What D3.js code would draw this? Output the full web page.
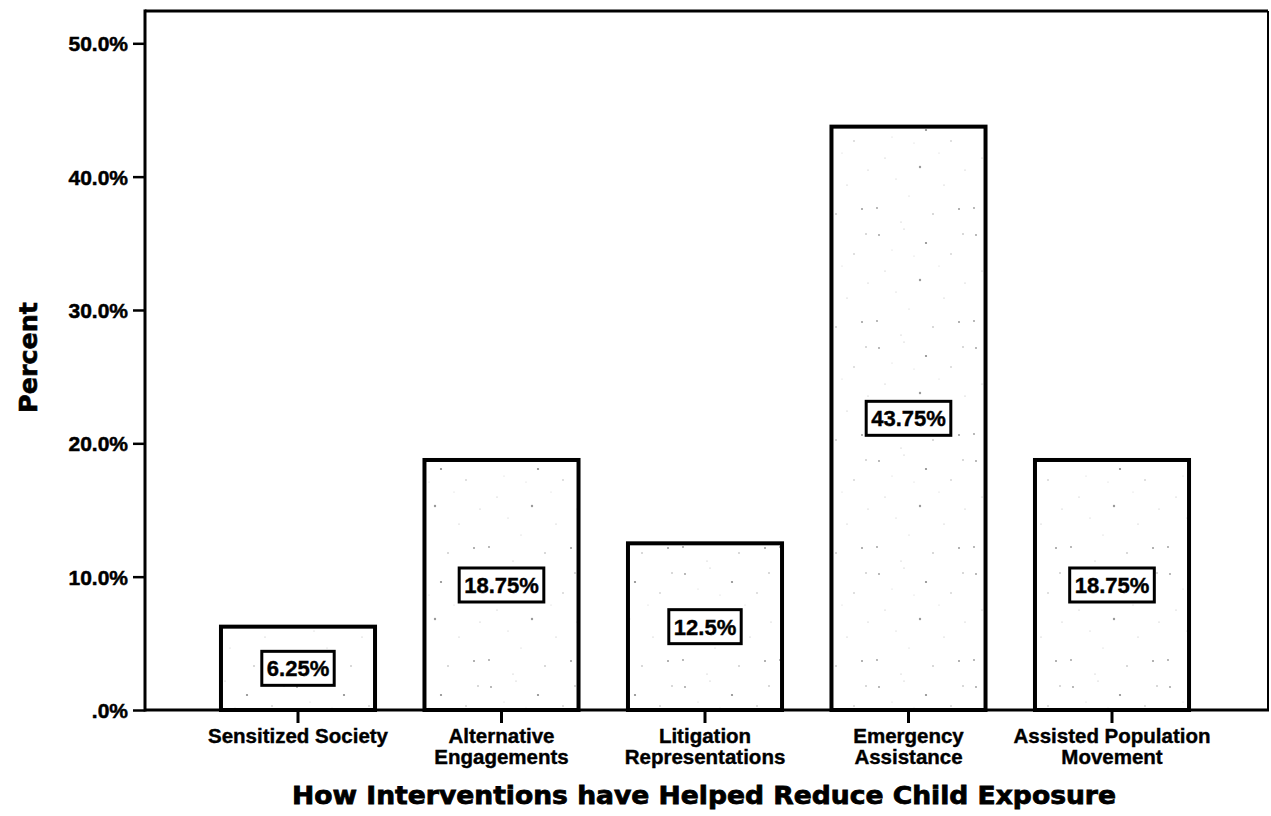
<!DOCTYPE html>
<html>
<head>
<meta charset="utf-8">
<script src="https://cdn.jsdelivr.net/npm/d3@7/dist/d3.min.js"></script>
<style>
  html, body { margin: 0; padding: 0; background: #fff; }
  svg { display: block; }
</style>
</head>
<body>
<svg id="chart" width="1271" height="816"></svg>
<script>
// Survey responses: how interventions have helped reduce child exposure
const categories = [
  "Sensitized Society",
  "Alternative Engagements",
  "Litigation Representations",
  "Emergency Assistance",
  "Assisted Population Movement"
];
const labelLines = [
  ["Sensitized Society"],
  ["Alternative", "Engagements"],
  ["Litigation", "Representations"],
  ["Emergency", "Assistance"],
  ["Assisted Population", "Movement"]
];
const percents = [6.25, 18.75, 12.5, 43.75, 18.75];
const valueLabels = ["6.25%", "18.75%", "12.5%", "43.75%", "18.75%"];
const yTicks = [0, 10, 20, 30, 40, 50];
const yTickLabels = [".0%", "10.0%", "20.0%", "30.0%", "40.0%", "50.0%"];

(function draw() {
  const svg = d3.select("#chart");
  const plotLeft = 145, plotRight = 1268, plotTop = 11, plotBottom = 710;
  const ARIAL = "'Liberation Sans', Arial, sans-serif";
  const HEAVY = "'DejaVu Sans', 'Liberation Sans', sans-serif";

  const y = d3.scaleLinear().domain([0, 50]).range([plotBottom, 43.3]);
  const x = d3.scaleBand()
    .domain(categories)
    .range([196.25, 1213.75])
    .paddingInner(0.243)
    .paddingOuter(0.1215);

  // faint speckle texture used inside the bars
  const defs = svg.append("defs");
  const pat = defs.append("pattern")
    .attr("id", "speckle").attr("patternUnits", "userSpaceOnUse")
    .attr("width", 97).attr("height", 113);
  pat.append("rect").attr("width", 97).attr("height", 113).attr("fill", "#fff");
  const speckles = [
    [6,9,0.9,"#999"],[31,3,0.6,"#bbb"],[53,17,1.1,"#888"],[78,28,0.7,"#aaa"],[12,45,0.6,"#bbb"],
    [47,54,1.2,"#999"],[71,72,0.6,"#bbb"],[90,8,0.8,"#aaa"],[4,95,0.9,"#999"],[36,83,0.6,"#ccc"],
    [60,101,0.8,"#aaa"],[86,96,1.0,"#999"],[23,66,0.5,"#bbb"],[66,40,0.5,"#ccc"],[19,24,0.5,"#ccc"],
    [92,57,0.6,"#bbb"],[41,30,0.5,"#ccc"],[28,109,0.6,"#bbb"]
  ];
  speckles.forEach(([cx, cy, r, c]) =>
    pat.append("circle").attr("cx", cx).attr("cy", cy).attr("r", r).attr("fill", c));

  // bars
  svg.append("g").selectAll("rect.bar")
    .data(percents)
    .join("rect")
    .attr("class", "bar")
    .attr("x", (d, i) => x(categories[i]))
    .attr("y", d => y(d))
    .attr("width", x.bandwidth())
    .attr("height", d => y(0) - y(d))
    .attr("fill", "url(#speckle)")
    .attr("stroke", "#000")
    .attr("stroke-width", 4);

  // frame: top and right borders
  svg.append("line").attr("x1", plotLeft).attr("x2", plotRight).attr("y1", plotTop).attr("y2", plotTop)
    .attr("stroke", "#000").attr("stroke-width", 3);
  svg.append("line").attr("x1", plotRight).attr("x2", plotRight).attr("y1", plotTop).attr("y2", plotBottom)
    .attr("stroke", "#000").attr("stroke-width", 2);

  // y axis
  const yAxis = d3.axisLeft(y)
    .tickValues(yTicks)
    .tickFormat((d, i) => yTickLabels[i])
    .tickSize(12)
    .tickSizeOuter(0)
    .tickPadding(5);
  const gy = svg.append("g").attr("transform", `translate(${plotLeft},0)`).call(yAxis);
  gy.select(".domain").remove();
  gy.selectAll(".tick line").attr("stroke", "#000").attr("stroke-width", 2.5);
  gy.selectAll(".tick text")
    .attr("font-family", ARIAL).attr("font-weight", "bold").attr("font-size", 21)
    .attr("fill", "#000").attr("stroke", "#000").attr("stroke-width", 0.5)
    .attr("dy", "0.36em");
  svg.append("line").attr("x1", plotLeft).attr("x2", plotLeft).attr("y1", plotTop - 1.5).attr("y2", plotBottom + 1.5)
    .attr("stroke", "#000").attr("stroke-width", 3);

  // x axis
  const xAxis = d3.axisBottom(x).tickSize(13).tickSizeOuter(0).tickFormat("");
  const gx = svg.append("g").attr("transform", `translate(0,${plotBottom})`).call(xAxis);
  gx.select(".domain").remove();
  gx.selectAll(".tick line").attr("stroke", "#000").attr("stroke-width", 3);
  svg.append("line").attr("x1", plotLeft).attr("x2", plotRight + 1).attr("y1", plotBottom).attr("y2", plotBottom)
    .attr("stroke", "#000").attr("stroke-width", 3);

  // category labels
  gx.selectAll(".tick").each(function(d, i) {
    const t = d3.select(this).append("text")
      .attr("text-anchor", "middle")
      .attr("font-family", ARIAL).attr("font-weight", "bold").attr("font-size", 20.5)
      .attr("fill", "#000").attr("stroke", "#000").attr("stroke-width", 0.4);
    labelLines[i].forEach((line, j) => {
      t.append("tspan").attr("x", 0).attr("y", 33 + j * 21).text(line);
    });
  });

  // value labels in boxes at the middle of each bar
  const lab = svg.append("g").selectAll("g.vl")
    .data(percents)
    .join("g")
    .attr("class", "vl")
    .attr("transform", (d, i) => `translate(${x(categories[i]) + x.bandwidth() / 2},${y(d / 2)})`);
  lab.each(function(d, i) {
    const g = d3.select(this);
    const txt = g.append("text")
      .attr("text-anchor", "middle").attr("dy", "0.36em")
      .attr("font-family", ARIAL).attr("font-weight", "bold").attr("font-size", 22)
      .attr("fill", "#000").attr("stroke", "#000").attr("stroke-width", 0.4)
      .text(valueLabels[i]);
    const w = txt.node().getComputedTextLength() + 10;
    g.insert("rect", "text")
      .attr("x", -w / 2).attr("y", -17)
      .attr("width", w).attr("height", 34)
      .attr("fill", "#fff").attr("stroke", "#000").attr("stroke-width", 3);
  });

  // axis titles
  svg.append("text")
    .attr("transform", `translate(37,${(302 + 413) / 2}) rotate(-90)`)
    .attr("text-anchor", "middle")
    .attr("font-family", HEAVY).attr("font-weight", "bold").attr("font-size", 25)
    .attr("textLength", 111).attr("lengthAdjust", "spacingAndGlyphs")
    .attr("fill", "#000").attr("stroke", "#000").attr("stroke-width", 0.6)
    .text("Percent");

  svg.append("text")
    .attr("x", 704).attr("y", 804)
    .attr("text-anchor", "middle")
    .attr("font-family", HEAVY).attr("font-weight", "bold").attr("font-size", 25)
    .attr("textLength", 824).attr("lengthAdjust", "spacingAndGlyphs")
    .attr("fill", "#000").attr("stroke", "#000").attr("stroke-width", 0.8)
    .text("How Interventions have Helped Reduce Child Exposure");
})();
</script>
</body>
</html>
